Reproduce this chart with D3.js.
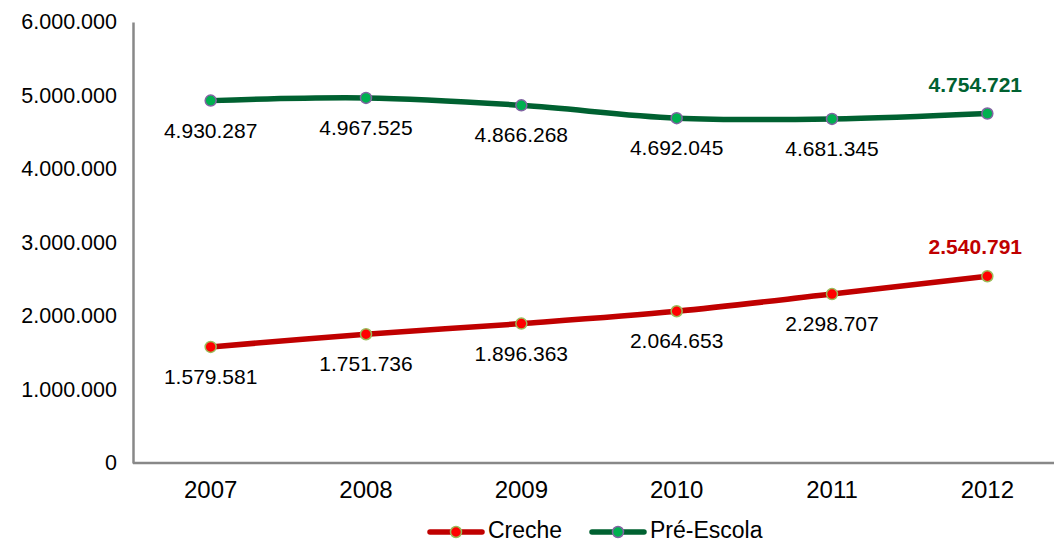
<!DOCTYPE html>
<html lang="pt">
<head>
<meta charset="UTF-8">
<title>Matrículas</title>
<script src="https://d3js.org/d3.v7.min.js"></script>
<style>
  body { margin: 0; background: #fff; }
  text { font-family: "Liberation Sans", Arial, sans-serif; fill: #000; }
</style>
</head>
<body>
<script>
var anos = ["2007", "2008", "2009", "2010", "2011", "2012"];
var creche = [1579581, 1751736, 1896363, 2064653, 2298707, 2540791];
var preEscola = [4930287, 4967525, 4866268, 4692045, 4681345, 4754721];
var yTicks = [0, 1000000, 2000000, 3000000, 4000000, 5000000, 6000000];

var series = [
  { nome: "Creche", valores: creche, cor: "#c00000", marca: "#ff0000", borda: "#9bbb59", destaque: "#c00000" },
  { nome: "Pré-Escola", valores: preEscola, cor: "#006131", marca: "#00b050", borda: "#8064a2", destaque: "#006131" }
];

var W = 1054, H = 544;
var mLeft = 133, mTop = 22, mBottom = 463, mRight = 1065;

var svg = d3.select("body").append("svg").attr("width", W).attr("height", H);

var x = d3.scaleBand().domain(anos).range([mLeft, mRight]);
var y = d3.scaleLinear().domain([0, 6000000]).range([mBottom, mTop]);

var fmt = function(v) { return d3.format(",")(v).replace(/,/g, "."); };
var cx = function(d, i) { return x(anos[i]) + x.bandwidth() / 2; };

// eixos
var yAxis = svg.append("g").attr("transform", "translate(" + mLeft + ",0)")
  .call(d3.axisLeft(y).tickValues(yTicks).tickSize(0).tickPadding(16).tickFormat(fmt));
yAxis.select(".domain").attr("stroke", "#888").attr("stroke-width", 2.5);
yAxis.selectAll("text").style("font-size", "21.5px");

var xAxis = svg.append("g").attr("transform", "translate(0," + mBottom + ")")
  .call(d3.axisBottom(x).tickSize(0).tickPadding(18));
xAxis.select(".domain").attr("stroke", "#888").attr("stroke-width", 2.5).attr("d", "M" + mLeft + ",0H" + W);
xAxis.selectAll("text").style("font-size", "24px");

var line = d3.line()
  .x(cx)
  .y(function(d) { return y(d); })
  .curve(d3.curveCatmullRom.alpha(0.5));

series.forEach(function(s) {
  var g = svg.append("g");
  var last = s.valores.length - 1;
  g.append("path").attr("d", line(s.valores))
    .attr("fill", "none").attr("stroke", s.cor).attr("stroke-width", 5.5);
  g.selectAll("circle").data(s.valores).enter().append("circle")
    .attr("cx", cx)
    .attr("cy", function(d) { return y(d); })
    .attr("r", 5.5).attr("fill", s.marca).attr("stroke", s.borda).attr("stroke-width", 1.5);
  g.selectAll("text").data(s.valores).enter().append("text")
    .attr("x", function(d, i) { return i === last ? cx(d, i) - 12 : cx(d, i); })
    .attr("y", function(d, i) { return i === last ? y(d) - 22 : y(d) + 37; })
    .attr("text-anchor", "middle")
    .style("font-size", "21px")
    .style("font-weight", function(d, i) { return i === last ? "bold" : "normal"; })
    .style("fill", function(d, i) { return i === last ? s.destaque : "#000"; })
    .text(fmt);
});

// legenda
var legX = [428, 590];
series.forEach(function(s, i) {
  var g = svg.append("g").attr("transform", "translate(" + legX[i] + ",532)");
  g.append("line").attr("x1", 2).attr("x2", 54).attr("y1", 0).attr("y2", 0)
    .attr("stroke", s.cor).attr("stroke-width", 5.5).attr("stroke-linecap", "round");
  g.append("circle").attr("cx", 28).attr("cy", 0).attr("r", 5.5)
    .attr("fill", s.marca).attr("stroke", s.borda).attr("stroke-width", 1.5);
  g.append("text").attr("x", 60).attr("y", 6).style("font-size", "23px").text(s.nome);
});
</script>
</body>
</html>
